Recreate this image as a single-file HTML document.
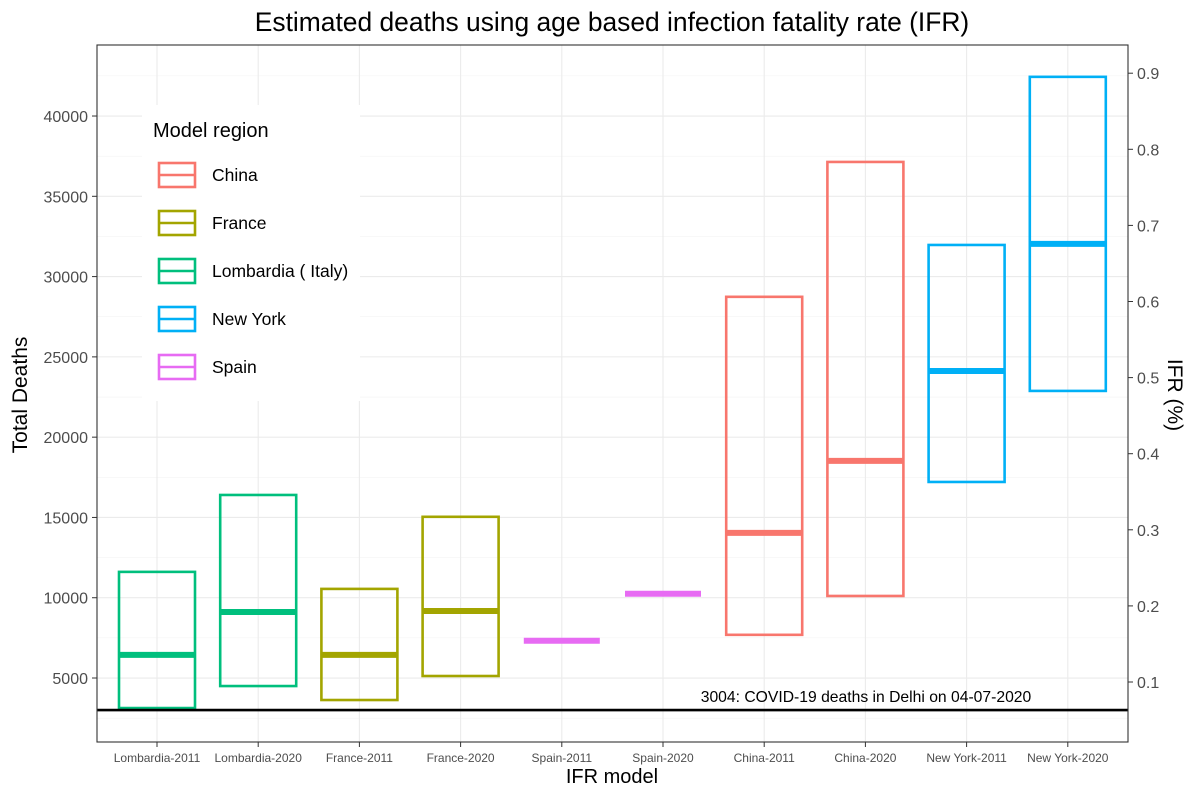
<!DOCTYPE html>
<html><head><meta charset="utf-8"><style>
body{margin:0;background:#fff;font-family:"Liberation Sans",sans-serif}
svg text{font-family:"Liberation Sans",sans-serif}
</style></head><body>
<svg id="chart" width="1200" height="800" xmlns="http://www.w3.org/2000/svg">
<rect width="1200" height="800" fill="#fff"/>
<text x="612" y="31" font-size="26.4" text-anchor="middle" fill="#000">Estimated deaths using age based infection fatality rate (IFR)</text>
<g id="grid"></g><g id="marks"></g><g id="axes"></g>
<text transform="translate(27,395) rotate(-90)" font-size="21" text-anchor="middle">Total Deaths</text>
<text transform="translate(1168,395) rotate(90)" font-size="21" text-anchor="middle">IFR (%)</text>
<text x="612" y="783" font-size="20" text-anchor="middle">IFR model</text>
<g id="legend"></g>
</svg>
<script>
const categories=["Lombardia-2011","Lombardia-2020","France-2011","France-2020","Spain-2011","Spain-2020","China-2011","China-2020","New York-2011","New York-2020"];
const regions=["Lombardia ( Italy)","Lombardia ( Italy)","France","France","Spain","Spain","China","China","New York","New York"];
const lows=[3130,4500,3630,5125,7320,10250,7690,10110,17210,22880];
const mids=[6440,9110,6440,9170,7320,10250,14040,18520,24120,32040];
const highs=[11610,16400,10550,15040,7320,10250,28740,37140,31970,42440];
const yTicks=[5000,10000,15000,20000,25000,30000,35000,40000];
const y2Ticks=[0.1,0.2,0.3,0.4,0.5,0.6,0.7,0.8,0.9];
const legendNames=["China","France","Lombardia ( Italy)","New York","Spain"];
const delhiDeaths=3004;
const colors={"China":"#F8766D","France":"#A3A500","Lombardia ( Italy)":"#00BF7D","New York":"#00B0F6","Spain":"#E76BF3"};
const L=97,R=1128,T=45,B=742;
const y=v=>758.3-v*0.016057;
const y2=v=>682-(v-0.1)*761;
const x=i=>157+i*101.2;
const NS="http://www.w3.org/2000/svg";
function mk(p,t,a){const e=document.createElementNS(NS,t);for(const k in a)e.setAttribute(k,a[k]);document.getElementById(p).appendChild(e);return e;}
for(const t of yTicks){const g=mk('grid','line',{x1:L,x2:R,y1:y(t),y2:y(t),stroke:'#EBEBEB','stroke-width':1.1});

}
for(let v=2500;v<=42500;v+=5000){const g=mk('grid','line',{x1:L,x2:R,y1:y(v),y2:y(v),stroke:'#F3F3F3','stroke-width':0.6});

}
categories.forEach((c,i)=>{const g=mk('grid','line',{x1:x(i),x2:x(i),y1:T,y2:B,stroke:'#EBEBEB','stroke-width':1.1});

});
categories.forEach((c,i)=>{const col=colors[regions[i]];const w=76;
if(highs[i]>lows[i]){const r=mk('marks','rect',{x:x(i)-w/2,y:y(highs[i]),width:w,height:y(lows[i])-y(highs[i]),fill:'none',stroke:col,'stroke-width':2.6});

}
const m=mk('marks','line',{x1:x(i)-w/2,x2:x(i)+w/2,y1:y(mids[i]),y2:y(mids[i]),stroke:col,'stroke-width':6});

});
const dl=mk('marks','line',{x1:L,x2:R,y1:y(delhiDeaths),y2:y(delhiDeaths),stroke:'#000','stroke-width':2.6});


const dt=mk('marks','text',{x:866,y:y(delhiDeaths)-8,'font-size':15.7,'text-anchor':'middle'});dt.textContent=delhiDeaths+': COVID-19 deaths in Delhi on 04-07-2020';


const bd=mk('axes','rect',{x:L,y:T,width:R-L,height:B-T,fill:'none',stroke:'#333','stroke-width':1.1});


for(const t of yTicks){mk('axes','line',{x1:L-5,x2:L,y1:y(t),y2:y(t),stroke:'#333'});
const tx=mk('axes','text',{x:L-9,y:y(t)+6,'font-size':16,'text-anchor':'end',fill:'#4D4D4D'});tx.textContent=t;

}
for(const t of y2Ticks){mk('axes','line',{x1:R,x2:R+5,y1:y2(t),y2:y2(t),stroke:'#333'});
const tx=mk('axes','text',{x:R+9,y:y2(t)+6,'font-size':16,fill:'#4D4D4D'});tx.textContent=t.toFixed(1);

}
categories.forEach((c,i)=>{mk('axes','line',{x1:x(i),x2:x(i),y1:B,y2:B+5,stroke:'#333'});
const tx=mk('axes','text',{x:x(i),y:B+20,'font-size':12,'text-anchor':'middle',fill:'#4D4D4D'});tx.textContent=c;

});
const lb=mk('legend','rect',{x:142,y:105,width:218,height:296,fill:'#fff'});


const lt=mk('legend','text',{x:153,y:137,'font-size':20});lt.textContent='Model region';


legendNames.forEach((n,j)=>{const cy=175+j*48;const col=colors[n];
mk('legend','rect',{x:159,y:cy-12,width:36,height:24,fill:'none',stroke:col,'stroke-width':2.6});
mk('legend','line',{x1:159,x2:195,y1:cy,y2:cy,stroke:col,'stroke-width':2.6});
const t=mk('legend','text',{x:212,y:cy+6,'font-size':17.5});t.textContent=n;

});
</script>
</body></html>
